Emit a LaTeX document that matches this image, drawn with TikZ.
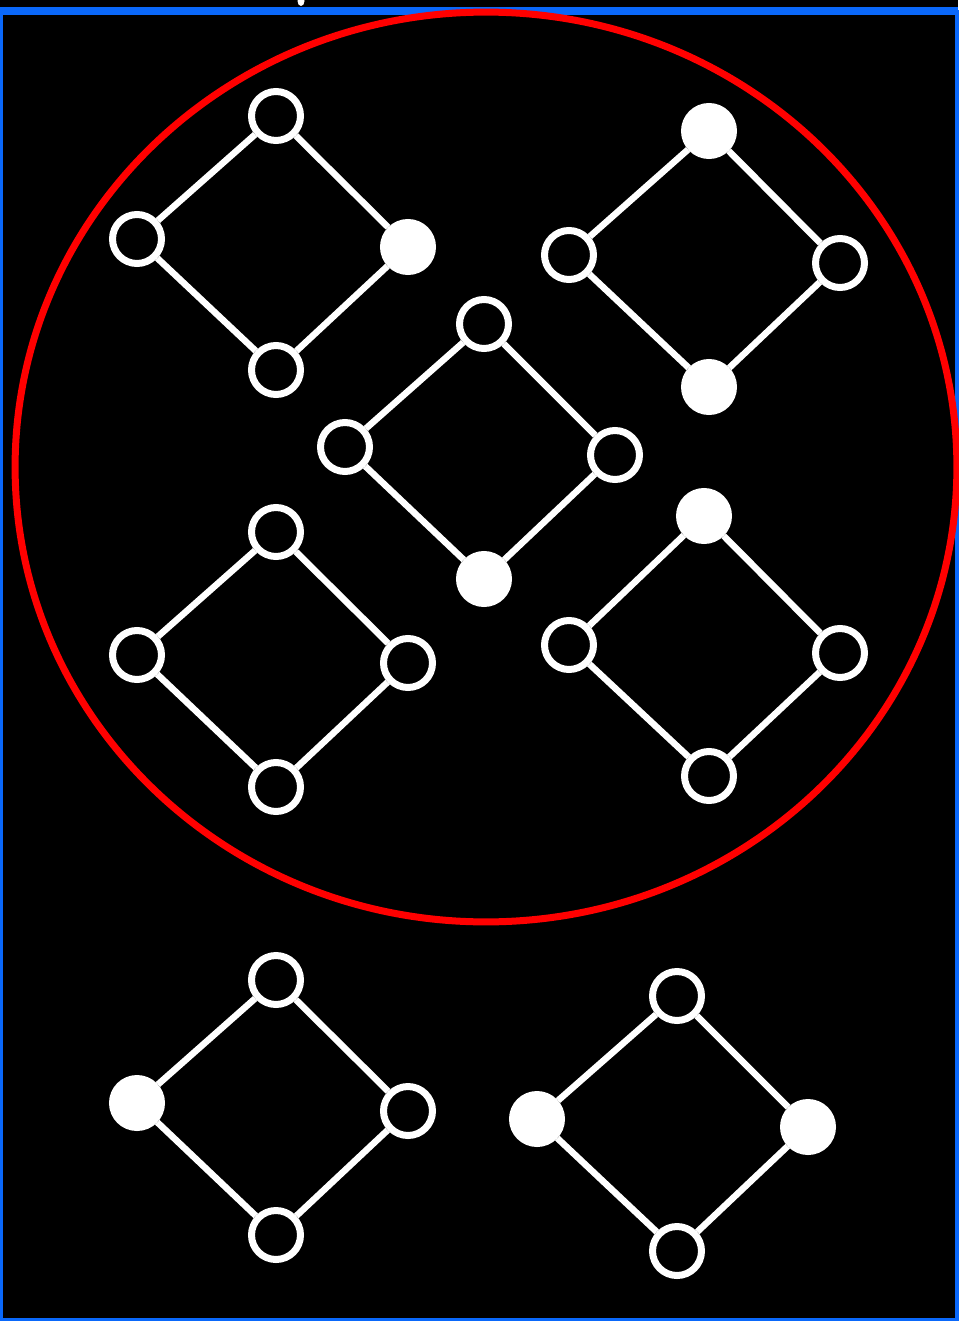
\documentclass[tikz,border=0pt]{standalone}
\usepackage{tikz}
\usepackage{xcolor}
\definecolor{frame}{RGB}{10,104,250}
\definecolor{ring}{RGB}{255,0,0}

\begin{document}
\begin{tikzpicture}[x=0.02cm,y=-0.02cm,
  vtx/.style={circle,draw=white,fill=black,line width=0.14cm,minimum size=0.98cm,inner sep=0pt},
  vtxfull/.style={vtx,fill=white},
  edge/.style={draw=white,line width=0.13cm}]
  \useasboundingbox (0,0) rectangle (958,1321);
  \fill[black] (0,0) rectangle (958,1321);
  \draw[frame,line width=0.08cm] (1.5,12) rectangle (956.5,1319.5);
  \draw[frame,line width=0.16cm] (0,11) -- (958,11);
  \fill[white] (301,1) ellipse [x radius=0.07cm, y radius=0.1cm];
  \draw[ring,line width=0.14cm] (486,467) ellipse [x radius=9.42cm, y radius=9.1cm];
  % diamonds inside the ellipse
  \node[vtx] (t1) at (276,116){}; \node[vtx] (l1) at (137,239){};
  \node[vtxfull] (r1) at (408,247){}; \node[vtx] (b1) at (276,370){};
  \node[vtxfull] (t2) at (709,131){}; \node[vtx] (l2) at (569,255){};
  \node[vtx] (r2) at (840,263){}; \node[vtxfull] (b2) at (709,387){};
  \node[vtx] (t3) at (484,324){}; \node[vtx] (l3) at (345,447){};
  \node[vtx] (r3) at (615,455){}; \node[vtxfull] (b3) at (484,579){};
  \node[vtx] (t4) at (276,532){}; \node[vtx] (l4) at (137,655){};
  \node[vtx] (r4) at (408,663){}; \node[vtx] (b4) at (276,787){};
  \node[vtxfull] (t5) at (704,516){}; \node[vtx] (l5) at (569,645){};
  \node[vtx] (r5) at (840,653){}; \node[vtx] (b5) at (709,776){};
  % diamonds below
  \node[vtx] (t6) at (276,980){}; \node[vtxfull] (l6) at (137,1103){};
  \node[vtx] (r6) at (408,1111){}; \node[vtx] (b6) at (276,1235){};
  \node[vtx] (t7) at (677,996){}; \node[vtxfull] (l7) at (537,1119){};
  \node[vtxfull] (r7) at (808,1127){}; \node[vtx] (b7) at (677,1251){};
  \foreach \n in {1,...,7}{
    \draw[edge] (t\n) -- (l\n); \draw[edge] (l\n) -- (b\n);
    \draw[edge] (b\n) -- (r\n); \draw[edge] (r\n) -- (t\n);
  }
\end{tikzpicture}
\end{document}
